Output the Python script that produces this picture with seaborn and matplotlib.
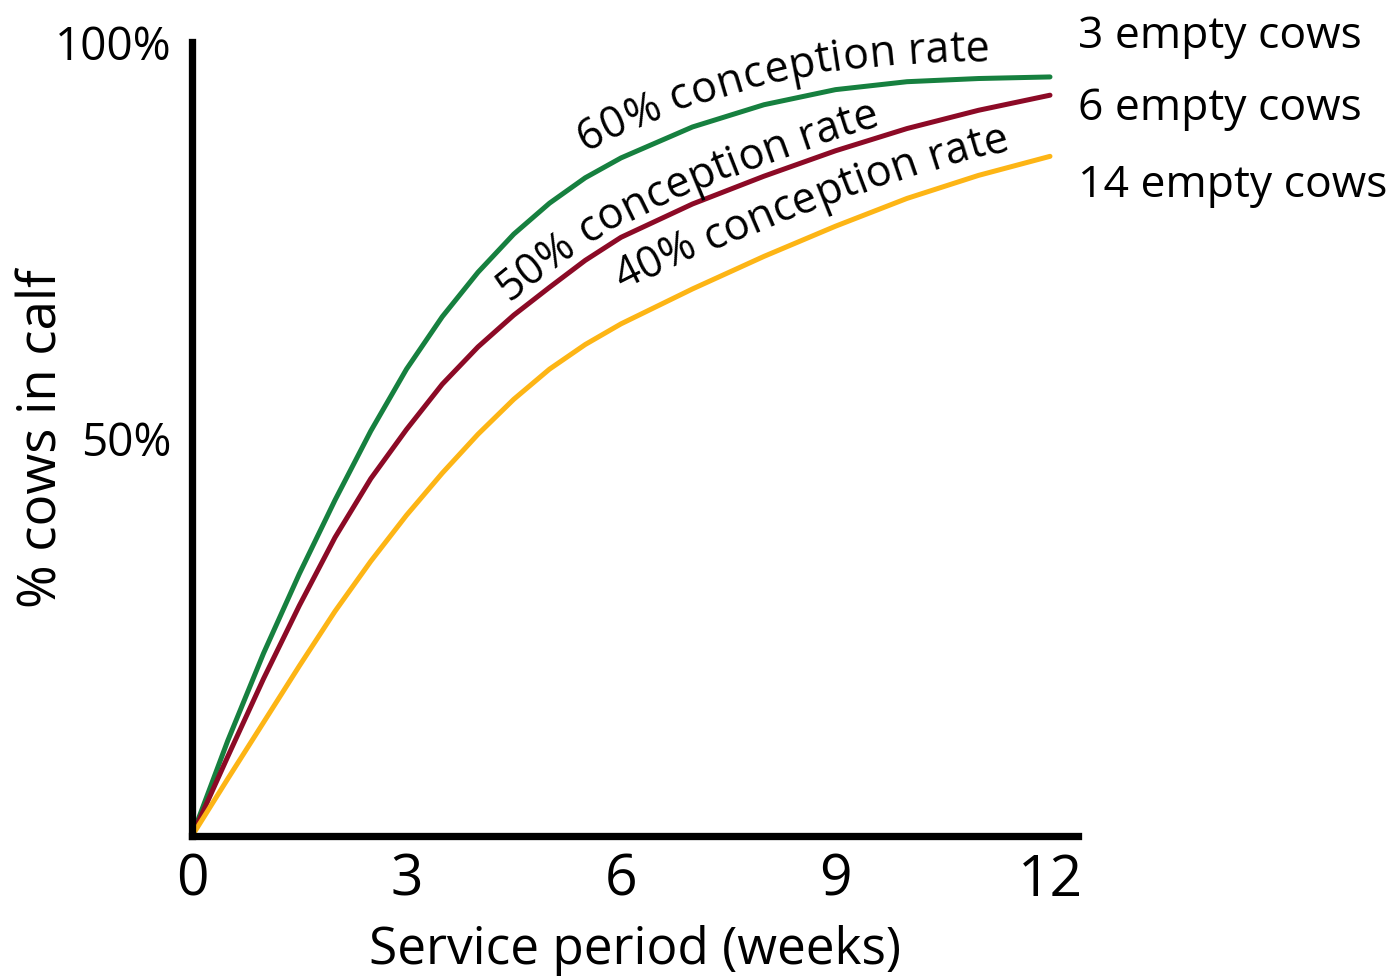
import numpy as np
import pandas as pd
import seaborn as sns
import matplotlib.pyplot as plt
from matplotlib.transforms import IdentityTransform

# values (weeks vs % cows in calf)
weeks = [0, 0.5, 1, 1.5, 2, 2.5, 3, 3.5, 4, 4.5, 5, 5.5, 6, 7, 8, 9, 10, 11, 12]
rate_60 = [0, 12, 23, 33, 42.3, 51, 58.8, 65.4, 71, 75.8, 79.7, 82.9, 85.4, 89.3, 92.1, 94.0, 95.0, 95.4, 95.6]
rate_50 = [0, 10, 19.8, 29, 37.6, 45, 51.2, 56.9, 61.6, 65.6, 69.1, 72.5, 75.4, 79.6, 83.1, 86.3, 89.1, 91.4, 93.3]
rate_40 = [0, 7.2, 14.3, 21.4, 28.3, 34.6, 40.4, 45.7, 50.6, 55.0, 58.8, 61.9, 64.5, 68.9, 73.0, 76.8, 80.3, 83.2, 85.6]
series_names = ['60% conception rate', '50% conception rate', '40% conception rate']
end_labels = ['3 empty cows', '6 empty cows', '14 empty cows']
x_ticks = [0, 3, 6, 9, 12]
y_ticks = [50, 100]
y_tick_labels = ['50%', '100%']
colors = ['#16803f', '#8c0a26', '#fdb515']

sns.set_style('white')
plt.rcParams['font.family'] = ['Open Sans', 'DejaVu Sans']
for key in ['text.color', 'axes.labelcolor', 'xtick.labelcolor', 'ytick.labelcolor']:
    plt.rcParams[key] = 'black'

df = pd.DataFrame({
    'week': weeks * 3,
    'pct': rate_60 + rate_50 + rate_40,
    'rate': np.repeat(series_names, len(weeks)),
})

fig = plt.figure(figsize=(13.93, 9.76), dpi=100)
ax = fig.add_axes([192 / 1393, 140 / 976, 886 / 1393, 794 / 976])
sns.lineplot(data=df, x='week', y='pct', hue='rate', palette=dict(zip(series_names, colors)),
             estimator=None, lw=3.6, legend=False, ax=ax, clip_on=False)

ax.set_xlim(0, 886 / 71.5)
ax.set_ylim(0, 100)
for side in ['top', 'right']:
    ax.spines[side].set_visible(False)
for side in ['left', 'bottom']:
    ax.spines[side].set_linewidth(5.25)
    ax.spines[side].set_color('black')
    ax.spines[side].set_capstyle('projecting')

ax.set_xticks(x_ticks)
ax.set_xticklabels([str(t) for t in x_ticks])
ax.tick_params(axis='x', length=0, pad=12, labelsize=41)
ax.set_yticks(y_ticks)
ax.set_yticklabels(y_tick_labels)
ax.set_yticks([t for t in range(10, 100, 10) if t != 50], minor=True)
ax.tick_params(axis='y', which='major', direction='in', length=19.5, width=5.8,
               color='black', pad=15, labelsize=33)
ax.tick_params(axis='y', which='minor', direction='in', length=17, width=1.8, color='#808080')

ax.set_xlabel('Service period (weeks)', fontsize=37)
ax.xaxis.set_label_coords(0.5, -0.112)
ax.set_ylabel('% cows in calf', fontsize=38)
ax.yaxis.set_label_coords(-0.138, 0.5)

# labels at the right end of the curves
for lab, y in zip(end_labels, [99.2, 90.2, 80.5]):
    ax.text(886 / 71.5, y, lab, fontsize=32, ha='left', va='baseline')

# labels written along the curves, one character at a time
fig.canvas.draw()
renderer = fig.canvas.get_renderer()


def text_width(s, size):
    t = fig.text(0, 0, s, fontsize=size)
    w = t.get_window_extent(renderer).width
    t.remove()
    return w


def curve_label(xs, ys, text, x_start, off_start, off_end, size=31):
    pts = ax.transData.transform(np.column_stack([xs, ys]))
    d = np.gradient(pts, axis=0)
    ang = np.arctan2(d[:, 1], d[:, 0])
    nrm = np.column_stack([-np.sin(ang), np.cos(ang)])
    arc = np.concatenate([[0], np.cumsum(np.hypot(*np.diff(pts, axis=0).T))])
    s0 = np.interp(x_start, xs, arc)
    bar = text_width('|', size)
    adv = [0] + [text_width(text[:k] + '|', size) - bar for k in range(1, len(text) + 1)]
    for i, ch in enumerate(text):
        s = s0 + (adv[i] + adv[i + 1]) / 2
        off = off_start + (off_end - off_start) * i / (len(text) - 1)
        px = np.interp(s, arc, pts[:, 0]) + off * np.interp(s, arc, nrm[:, 0])
        py = np.interp(s, arc, pts[:, 1]) + off * np.interp(s, arc, nrm[:, 1])
        a = np.degrees(np.interp(s, arc, ang))
        fig.text(px, py, ch, transform=IdentityTransform(), fontsize=size,
                 rotation=a, rotation_mode='anchor', ha='center', va='baseline')


curve_label(weeks, rate_60, series_names[0], 5.65, 22, 17)
curve_label(weeks, rate_50, series_names[1], 4.55, 13, 11)
curve_label(weeks, rate_40, series_names[2], 6.2, 30, 17)

fig.savefig('out.png', dpi=100)
